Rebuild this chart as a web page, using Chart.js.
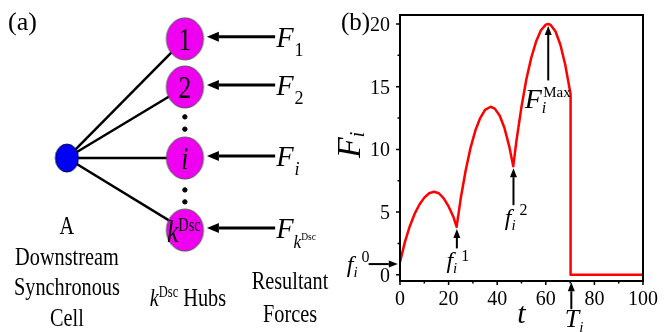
<!DOCTYPE html>
<html>
<head>
<meta charset="utf-8">
<script src="https://cdn.jsdelivr.net/npm/chart.js@4.4.1/dist/chart.umd.min.js"></script>
<style>
  html, body { margin: 0; padding: 0; background: #fff; width: 664px; height: 332px; overflow: hidden; }
  canvas { position: absolute; top: 0; }
  #panelA { left: 0; }
  #panelB { left: 338px; }
</style>
</head>
<body>
<canvas id="panelA" width="338" height="332"></canvas>
<canvas id="panelB" width="326" height="332"></canvas>
<script>
// ---- panel (b): force on hub i over time ----
const tValues = [0, 2, 4, 6, 8, 10, 12, 14, 16, 18, 20, 22, 23.3,
  25, 27, 29, 31, 33, 35, 37.3, 39, 41, 43, 45, 46.6,
  48, 50, 52, 54, 56, 58, 60, 61, 62, 64, 66, 68, 70.2,
  70.2, 100];
const fValues = [1.0, 2.6, 3.85, 4.85, 5.6, 6.15, 6.5, 6.62, 6.5, 6.1, 5.45, 4.6, 3.82,
  6.1, 8.3, 10.1, 11.5, 12.5, 13.15, 13.4, 13.25, 12.7, 11.7, 10.2, 8.65,
  10.8, 13.4, 15.6, 17.3, 18.6, 19.5, 19.95, 20.0, 19.93, 19.4, 18.35, 16.75, 14.4,
  0, 0];
const xTicks = [0, 20, 40, 60, 80, 100];
const xMinor = [10, 30, 50, 70, 90];
const yTicks = [0, 5, 10, 15, 20];
const yMinor = [2.5, 7.5, 12.5, 17.5];

// ---- panel (a): diagram, in 0-100 layout units ----
const hubLabels = ["1", "2", "i", "k"];
const hubX = [54.7, 54.7, 54.7, 54.7];
const hubY = [11.7, 26.2, 47.6, 69.3];
const cellX = 19.8;
const cellY = 47.6;
const dotX = [54.7, 54.7, 54.7, 54.7];
const dotY = [35.2, 38.9, 57.2, 60.8];
const forceTailX = 81.4;

const SERIF = '"Liberation Serif", "Times New Roman", serif';

function font(size, it) {
  return (it ? "italic " : "") + size + "px " + SERIF;
}

// draw a run of text pieces (for sub/superscripts), x/y = baseline
function rich(ctx, x, y, parts, align, sx) {
  sx = sx || 1;
  let w = 0;
  parts.forEach(p => {
    ctx.font = font(p.z, p.i);
    p.w = ctx.measureText(p.s).width;
    w += p.w + (p.dx || 0);
  });
  let cx = align === "center" ? -w / 2 : align === "right" ? -w : 0;
  ctx.save();
  ctx.translate(x, y);
  ctx.scale(sx, 1);
  ctx.fillStyle = "#000";
  ctx.textAlign = "left";
  ctx.textBaseline = "alphabetic";
  parts.forEach(p => {
    ctx.font = font(p.z, p.i);
    cx += p.dx || 0;
    ctx.fillText(p.s, cx, p.dy || 0);
    cx += p.w;
  });
  ctx.restore();
}

function arrow(ctx, x1, y1, x2, y2, lw, hl, hw) {
  const a = Math.atan2(y2 - y1, x2 - x1);
  const bx = x2 - hl * Math.cos(a), by = y2 - hl * Math.sin(a);
  ctx.save();
  ctx.strokeStyle = "#000";
  ctx.fillStyle = "#000";
  ctx.lineWidth = lw;
  ctx.beginPath();
  ctx.moveTo(x1, y1);
  ctx.lineTo(bx, by);
  ctx.stroke();
  ctx.beginPath();
  ctx.moveTo(x2, y2);
  ctx.lineTo(bx - hw * Math.sin(a), by + hw * Math.cos(a));
  ctx.lineTo(bx + hw * Math.sin(a), by - hw * Math.cos(a));
  ctx.closePath();
  ctx.fill();
  ctx.restore();
}

function ellipse(rx, ry, fill, stroke) {
  const c = document.createElement("canvas");
  c.width = Math.ceil(rx * 2 + 4);
  c.height = Math.ceil(ry * 2 + 4);
  const g = c.getContext("2d");
  g.beginPath();
  g.ellipse(c.width / 2, c.height / 2, rx, ry, 0, 0, Math.PI * 2);
  g.fillStyle = fill;
  g.fill();
  g.lineWidth = 1;
  g.strokeStyle = stroke;
  g.stroke();
  return c;
}

const hubImg = ellipse(18.5, 21, "#f000f0", "#505050");
const cellImg = ellipse(11.5, 14, "#0000f5", "#000040");

const aDeco = {
  id: "aDeco",
  afterDraw(chart) {
    const { ctx, scales: { x: xs, y: ys } } = chart;
    rich(ctx, 8, 30, [{ s: "(a)", z: 26 }]);

    hubLabels.forEach((lab, i) => {
      const px = xs.getPixelForValue(hubX[i]);
      const py = ys.getPixelForValue(hubY[i]);
      if (lab === "k") {
        rich(ctx, px - 1, py + 12, [{ s: "k", z: 32, i: true }, { s: "Dsc", z: 18, dy: -11 }], "center", 0.8);
      } else {
        rich(ctx, px, py + 11, [{ s: lab, z: 32, i: lab === "i" }], "center", 0.8);
      }
      const tail = xs.getPixelForValue(forceTailX);
      arrow(ctx, tail, py - 2, px + 22, py - 2, 3, 12, 5);
      const sub = lab === "k"
        ? [{ s: "F", z: 30, i: true }, { s: "k", z: 18, i: true, dy: 10 }, { s: "Dsc", z: 10, dy: 2 }]
        : [{ s: "F", z: 30, i: true }, { s: lab, z: 19, i: lab === "i", dy: 9, dx: 1 }];
      rich(ctx, tail + 1, py + 8, sub, "left", 0.95);
    });

    const cx = xs.getPixelForValue(cellX);
    rich(ctx, cx, 234, [{ s: "A", z: 26 }], "center", 0.78);
    rich(ctx, cx, 265, [{ s: "Downstream", z: 26 }], "center", 0.78);
    rich(ctx, cx, 295, [{ s: "Synchronous", z: 26 }], "center", 0.78);
    rich(ctx, cx, 326, [{ s: "Cell", z: 26 }], "center", 0.78);

    rich(ctx, 188, 306, [{ s: "k", z: 26, i: true }, { s: "Dsc", z: 16, dy: -9 }, { s: " Hubs", z: 26 }], "center", 0.78);
    rich(ctx, 290, 289, [{ s: "Resultant", z: 26 }], "center", 0.78);
    rich(ctx, 290, 322, [{ s: "Forces", z: 26 }], "center", 0.78);
  }
};

new Chart(document.getElementById("panelA"), {
  type: "scatter",
  data: {
    datasets: [
      ...hubX.map((hx, i) => ({
        data: [{ x: cellX, y: cellY }, { x: hx, y: hubY[i] }],
        showLine: true, borderColor: "#000", borderWidth: 2.5,
        pointRadius: 0, order: 3, clip: false
      })),
      {
        data: hubX.map((hx, i) => ({ x: hx, y: hubY[i] })),
        pointStyle: hubImg, pointRadius: 20, order: 1, clip: false
      },
      {
        data: [{ x: cellX, y: cellY }],
        pointStyle: cellImg, pointRadius: 12, order: 1, clip: false
      },
      {
        data: dotX.map((dx, i) => ({ x: dx, y: dotY[i] })),
        pointRadius: 2.2, backgroundColor: "#000", borderColor: "#000", order: 1, clip: false
      }
    ]
  },
  options: {
    responsive: false,
    animation: false,
    devicePixelRatio: 1,
    layout: { padding: 0, autoPadding: false },
    plugins: { legend: { display: false }, tooltip: { enabled: false } },
    scales: {
      x: { type: "linear", display: false, min: 0, max: 100 },
      y: { type: "linear", display: false, min: 0, max: 100, reverse: true }
    }
  },
  plugins: [aDeco]
});

const bDeco = {
  id: "bDeco",
  afterDraw(chart) {
    const { ctx, chartArea: a, scales: { x: xs, y: ys } } = chart;
    const P = (x, y) => [xs.getPixelForValue(x), ys.getPixelForValue(y)];

    ctx.save();
    ctx.strokeStyle = "#000";
    ctx.lineWidth = 2;
    ctx.strokeRect(a.left, a.top, a.right - a.left, a.bottom - a.top);
    ctx.lineWidth = 1.5;
    ctx.beginPath();
    xTicks.concat(xMinor).forEach(v => {
      const px = xs.getPixelForValue(v);
      const len = xTicks.includes(v) ? 4 : 2.5;
      ctx.moveTo(px, a.bottom);
      ctx.lineTo(px, a.bottom + len);
    });
    yTicks.concat(yMinor).forEach(v => {
      const py = ys.getPixelForValue(v);
      const len = yTicks.includes(v) ? 4 : 2.5;
      ctx.moveTo(a.left, py);
      ctx.lineTo(a.left - len, py);
    });
    ctx.stroke();
    ctx.restore();

    xTicks.forEach(v => rich(ctx, xs.getPixelForValue(v), 305, [{ s: String(v), z: 20 }], "center"));
    yTicks.forEach(v => rich(ctx, a.left - 10, ys.getPixelForValue(v) + 7, [{ s: String(v), z: 20 }], "right"));

    rich(ctx, 3, 30, [{ s: "(b)", z: 25 }]);

    // axis titles
    rich(ctx, xs.getPixelForValue(50), 323, [{ s: "t", z: 30, i: true }], "center");
    ctx.save();
    ctx.translate(22, 158);
    ctx.rotate(-Math.PI / 2);
    rich(ctx, 0, 0, [{ s: "F", z: 34, i: true }, { s: "i", z: 20, i: true, dy: 4 }]);
    ctx.restore();

    // annotations
    let p = P(-12.9, 0.85), q = P(-0.9, 0.85);
    arrow(ctx, p[0], p[1], q[0], q[1], 2, 9, 3.5);
    p = P(-21.9, 0.22);
    rich(ctx, p[0], p[1], [{ s: "f", z: 24, i: true }, { s: "i", z: 15, i: true, dy: 5 }, { s: "0", z: 16, dy: -10, dx: 4 }]);

    p = P(23.4, 2.1); q = P(23.4, 3.65);
    arrow(ctx, p[0], p[1], q[0], q[1], 2, 9, 3.5);
    p = P(19.1, 0.53);
    rich(ctx, p[0], p[1], [{ s: "f", z: 24, i: true }, { s: "i", z: 15, i: true, dy: 5 }, { s: "1", z: 16, dy: -7, dx: 4 }]);

    p = P(46.7, 5.55); q = P(46.7, 8.5);
    arrow(ctx, p[0], p[1], q[0], q[1], 2, 9, 3.5);
    p = P(43.1, 3.97);
    rich(ctx, p[0], p[1], [{ s: "f", z: 24, i: true }, { s: "i", z: 15, i: true, dy: 5 }, { s: "2", z: 16, dy: -10, dx: 4 }]);

    p = P(61, 15.5); q = P(61, 19.85);
    arrow(ctx, p[0], p[1], q[0], q[1], 2, 9, 3.5);
    p = P(51.3, 13.3);
    rich(ctx, p[0], p[1], [{ s: "F", z: 28, i: true }, { s: "i", z: 16, i: true, dy: 5 }, { s: "Max", z: 15, dy: -11, dx: -3 }]);

    p = P(70.5, -2.75); q = P(70.5, -0.6);
    arrow(ctx, p[0], p[1], q[0], q[1], 2, 9, 3.5);
    p = P(67.8, -4.17);
    rich(ctx, p[0], p[1], [{ s: "T", z: 26, i: true }, { s: "i", z: 15, i: true, dy: 5 }]);
  }
};

new Chart(document.getElementById("panelB"), {
  type: "scatter",
  data: {
    datasets: [{
      data: tValues.map((t, i) => ({ x: t, y: fValues[i] })),
      showLine: true,
      borderColor: "#ff0000",
      borderWidth: 2.5,
      borderJoinStyle: "round",
      pointRadius: 0,
      tension: 0
    }]
  },
  options: {
    responsive: false,
    animation: false,
    devicePixelRatio: 1,
    layout: { padding: { left: 62, right: 21, top: 15, bottom: 51 }, autoPadding: false },
    plugins: { legend: { display: false }, tooltip: { enabled: false } },
    scales: {
      x: { type: "linear", display: false, min: 0, max: 100 },
      y: { type: "linear", display: false, min: -0.5, max: 20.72 }
    }
  },
  plugins: [bDeco]
});
</script>
</body>
</html>
